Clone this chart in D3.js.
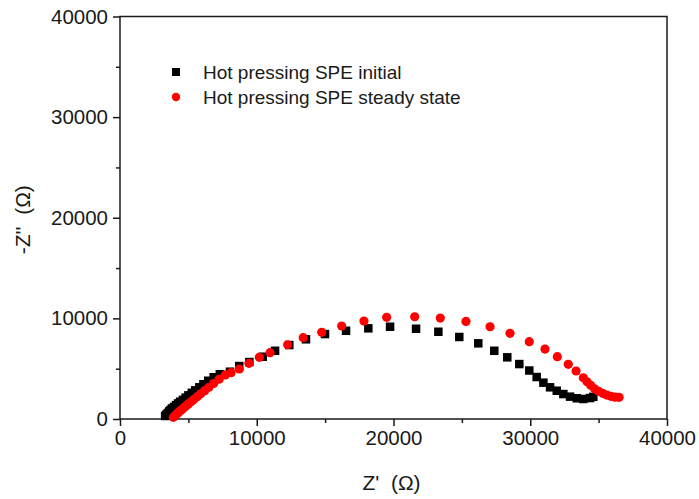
<!DOCTYPE html>
<html>
<head>
<meta charset="utf-8">
<script src="https://cdn.jsdelivr.net/npm/d3@7"></script>
<style>
  body { margin: 0; background: #fff; }
  text { font-family: "Liberation Sans", Arial, sans-serif; fill: #1a1a1a; white-space: pre; }
</style>
</head>
<body>
<div id="chart"></div>
<script>
// DATA
// Hot pressing SPE initial: Z' (ohm), -Z'' (ohm)
var initialZre = [3300, 3400, 3500, 3600, 3700, 3800, 3950, 4100, 4250, 4400, 4600, 4800, 5000, 5250, 5500, 5800, 6100, 6450, 6850, 7300,
    8040, 8720, 9460, 10440, 11340, 12380, 13600, 14990, 16530, 18160, 19750, 21650, 23280, 24810, 26200, 27370, 28320, 29200,
    29930, 30470, 30960, 31450, 31940, 32420, 32910, 33400, 33880, 34370, 34610];
var initialZim = [300, 450, 600, 760, 900, 1050, 1200, 1380, 1550, 1720, 1900, 2120, 2350, 2600, 2850, 3150, 3450, 3800, 4150, 4450,
    4700, 5260, 5660, 6190, 6780, 7350, 7920, 8440, 8770, 9010, 9170, 8970, 8670, 8150, 7520, 6780, 6130, 5460,
    4820, 4170, 3610, 3150, 2810, 2480, 2220, 2060, 1990, 2080, 2200];

// Hot pressing SPE steady state
var steadyZre = [3900, 4000, 4100, 4200, 4300, 4420, 4550, 4700, 4850, 5000, 5200, 5400, 5650, 5900, 6200, 6500, 6850, 7250, 7700,
    8120, 8720, 9430, 10190, 10970, 12260, 13400, 14750, 16210, 17840, 19500, 21550, 23420, 25300, 27060, 28520, 29930,
    31080, 31980, 32780, 33350, 33880, 34150, 34420, 34700, 35000, 35300, 35600, 35900, 36200, 36500];
var steadyZim = [170, 300, 430, 560, 690, 830, 980, 1150, 1320, 1500, 1720, 1950, 2220, 2500, 2820, 3150, 3530, 3950, 4380,
    4600, 4970, 5530, 6130, 6590, 7380, 8080, 8610, 9240, 9730, 10100, 10160, 10030, 9700, 9170, 8510, 7680,
    6950, 6190, 5430, 4770, 4100, 3700, 3350, 3000, 2750, 2550, 2380, 2250, 2170, 2150];

var xTicks = [0, 10000, 20000, 30000, 40000];
var yTicks = [0, 10000, 20000, 30000, 40000];
var minorTicks = [5000, 15000, 25000, 35000];

var seriesNames = ["Hot pressing SPE initial", "Hot pressing SPE steady state"];

// LAYOUT
var width = 699, height = 499;
var plotLeft = 120, plotRight = 667, plotTop = 16.5, plotBottom = 419;

var svg = d3.select("#chart").append("svg")
    .attr("width", width)
    .attr("height", height);

var x = d3.scaleLinear().domain([0, 40000]).range([plotLeft, plotRight]);
var y = d3.scaleLinear().domain([0, 40000]).range([plotBottom, plotTop]);

// frame
svg.append("rect")
    .attr("x", plotLeft).attr("y", plotTop)
    .attr("width", plotRight - plotLeft).attr("height", plotBottom - plotTop)
    .attr("fill", "none").attr("stroke", "#1a1a1a").attr("stroke-width", 1.5);

// axes (major ticks with labels)
svg.append("g")
    .attr("transform", "translate(0," + plotBottom + ")")
    .call(d3.axisBottom(x).tickValues(xTicks).tickSize(7).tickPadding(4).tickFormat(d3.format("d")));
svg.append("g")
    .attr("transform", "translate(" + plotLeft + ",0)")
    .call(d3.axisLeft(y).tickValues(yTicks).tickSize(7).tickPadding(5).tickFormat(d3.format("d")));

// minor ticks
svg.append("g")
    .attr("transform", "translate(0," + plotBottom + ")")
    .call(d3.axisBottom(x).tickValues(minorTicks).tickSize(4).tickFormat(""));
svg.append("g")
    .attr("transform", "translate(" + plotLeft + ",0)")
    .call(d3.axisLeft(y).tickValues(minorTicks).tickSize(4).tickFormat(""));

svg.selectAll(".domain").remove();
svg.selectAll(".tick line").attr("stroke", "#1a1a1a").attr("stroke-width", 1.5);
svg.selectAll(".tick text").style("font-size", "20.5px").style("font-family", "'Liberation Sans', Arial, sans-serif").attr("fill", "#1a1a1a");

// axis titles
svg.append("text")
    .attr("x", (plotLeft + plotRight) / 2 - 2)
    .attr("y", 490)
    .attr("text-anchor", "middle")
    .style("font-size", "21px")
    .text("Z'  (\u03A9)");

svg.append("text")
    .attr("transform", "translate(30," + ((plotTop + plotBottom) / 2 + 2) + ") rotate(-90)")
    .attr("text-anchor", "middle")
    .style("font-size", "21px")
    .text("-Z''  (\u03A9)");

// points
var initialData = initialZre.map(function(d, i) { return [d, initialZim[i]]; });
var steadyData = steadyZre.map(function(d, i) { return [d, steadyZim[i]]; });

var sq = 8.5;
svg.append("g").selectAll("rect")
    .data(initialData)
    .enter().append("rect")
    .attr("x", function(d) { return x(d[0]) - sq / 2; })
    .attr("y", function(d) { return y(d[1]) - sq / 2; })
    .attr("width", sq).attr("height", sq)
    .attr("fill", "#000");

svg.append("g").selectAll("circle")
    .data(steadyData)
    .enter().append("circle")
    .attr("cx", function(d) { return x(d[0]); })
    .attr("cy", function(d) { return y(d[1]); })
    .attr("r", 4.6)
    .attr("fill", "#f00");

// legend
var legend = svg.append("g").attr("transform", "translate(176,72)");
legend.append("rect")
    .attr("x", -4).attr("y", -4).attr("width", 8).attr("height", 8)
    .attr("fill", "#000");
legend.append("circle")
    .attr("cx", 0).attr("cy", 25).attr("r", 4.2)
    .attr("fill", "#f00");
legend.selectAll("text")
    .data(seriesNames)
    .enter().append("text")
    .attr("x", 27)
    .attr("y", function(d, i) { return i * 25 + 7; })
    .style("font-size", "19px")
    .text(function(d) { return d; });
</script>
</body>
</html>
